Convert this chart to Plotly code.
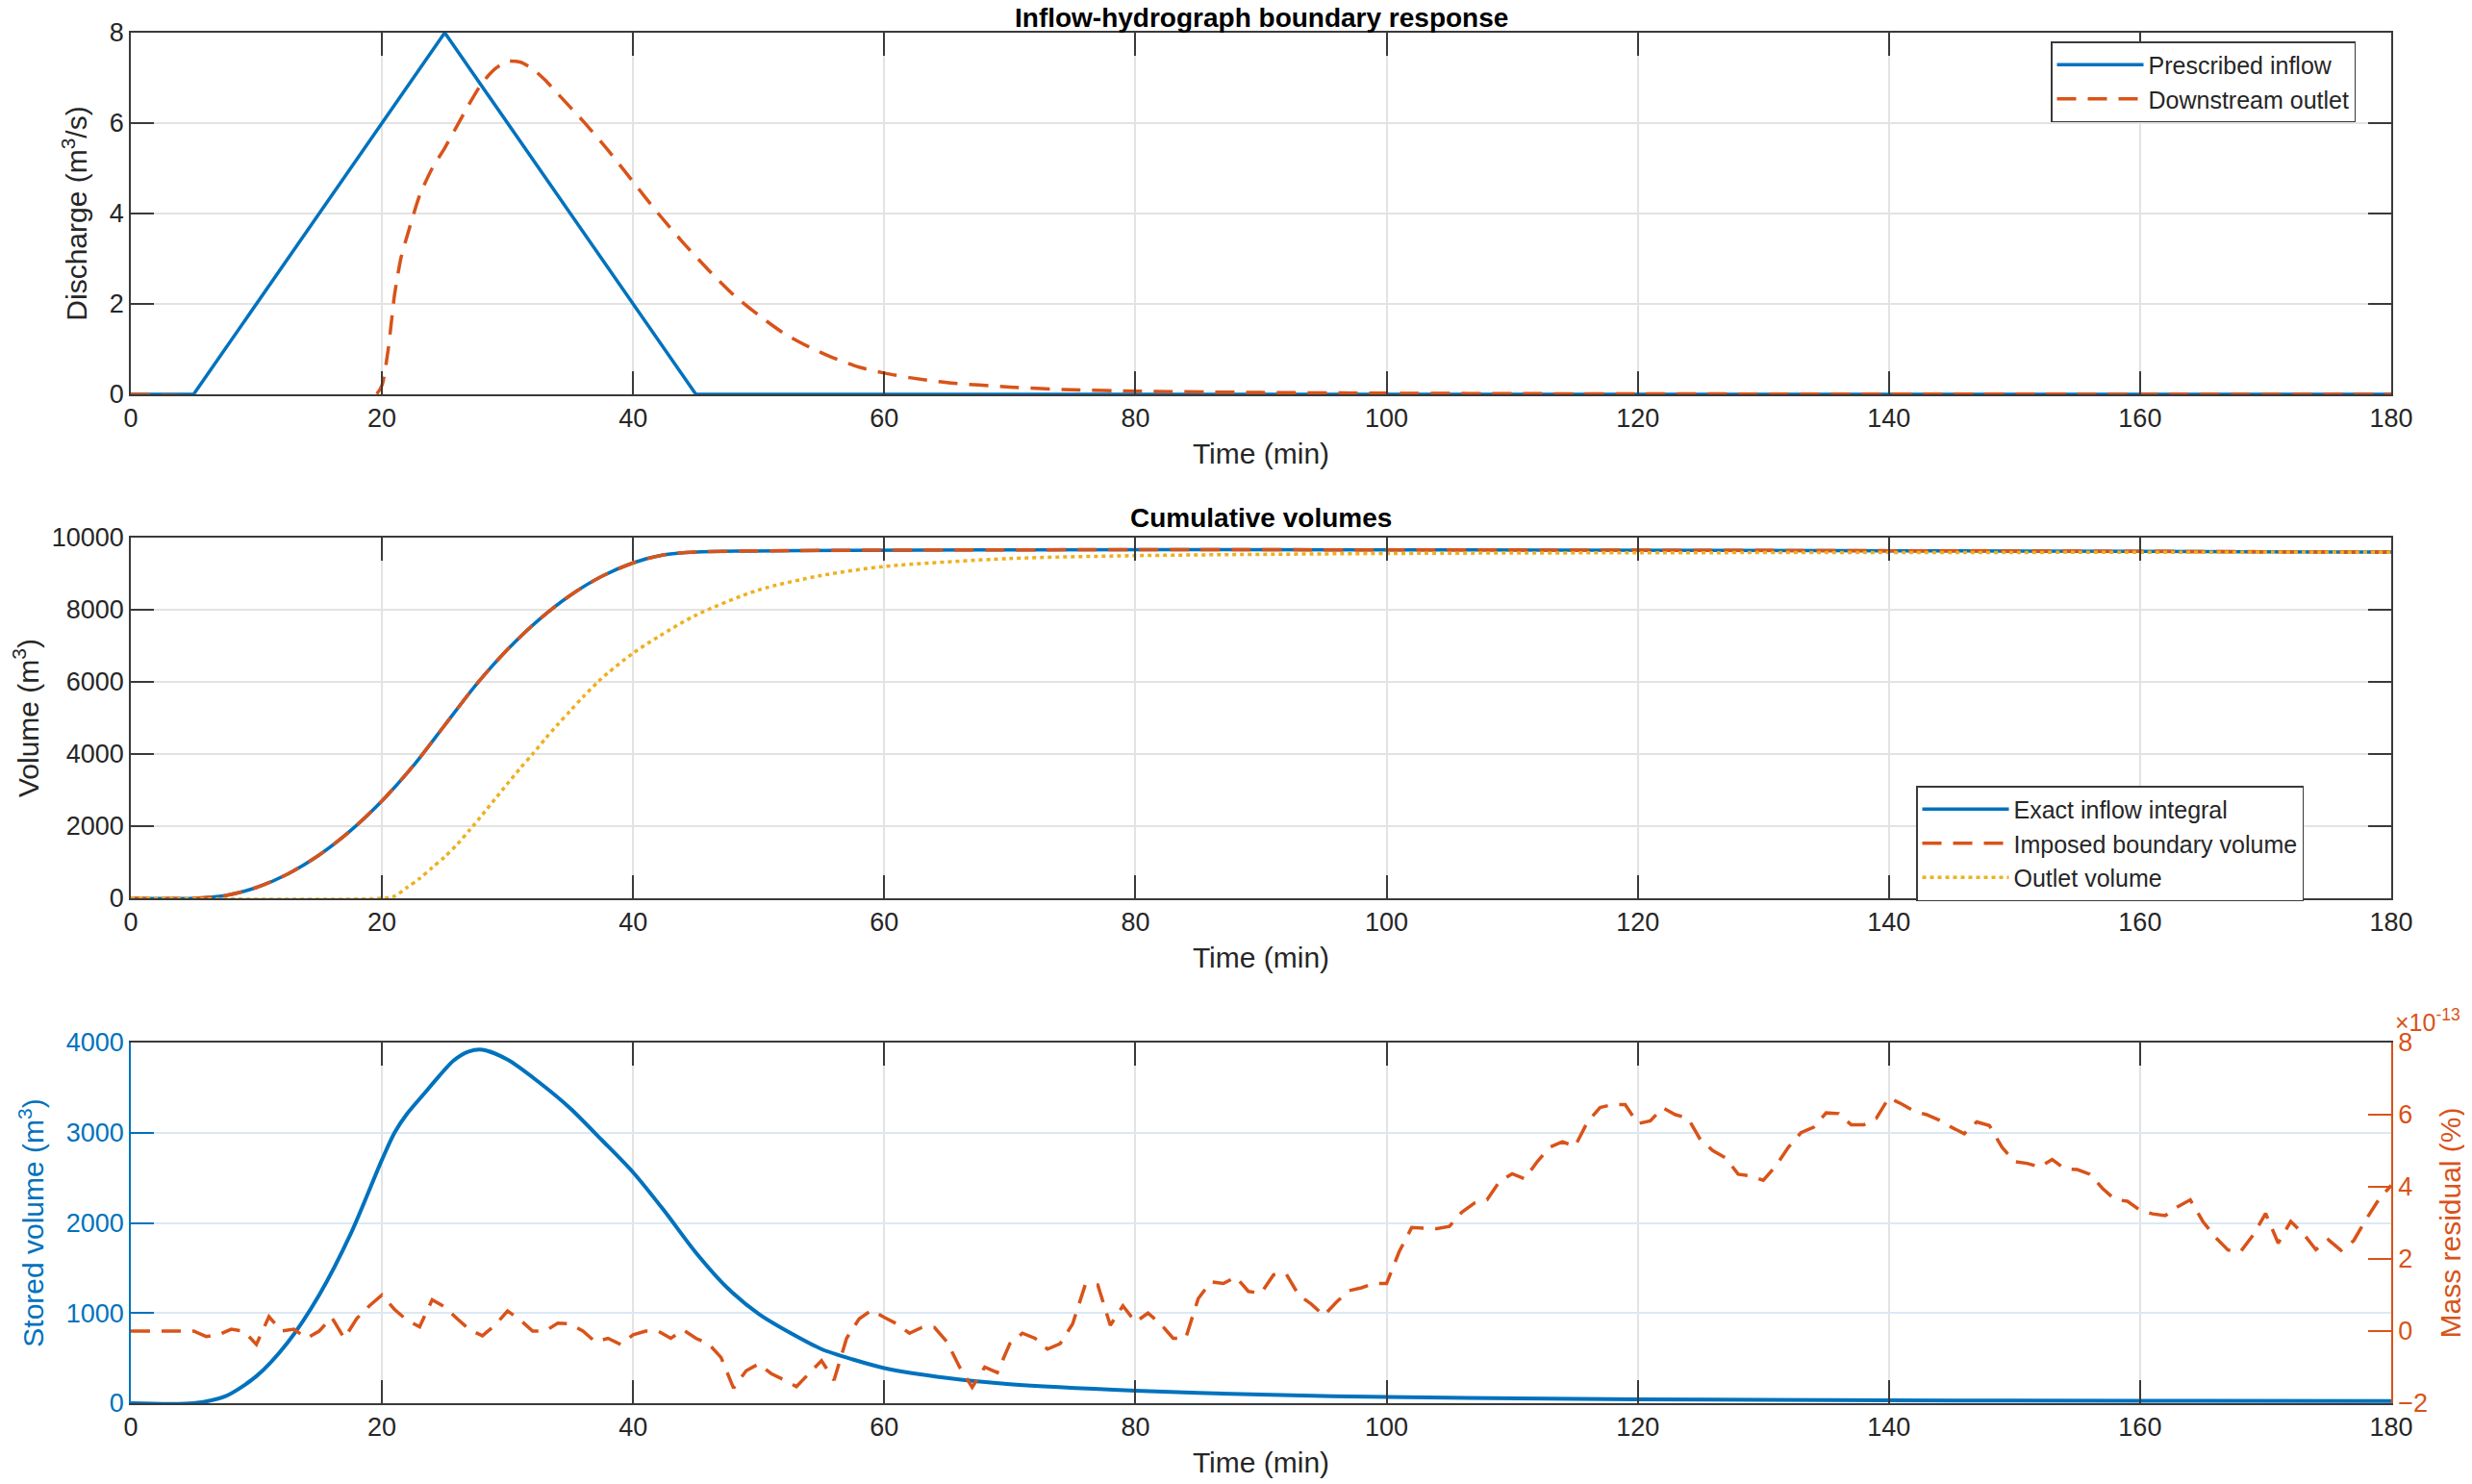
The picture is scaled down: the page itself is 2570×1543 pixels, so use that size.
import plotly.graph_objects as go

# ---- data ----
# panel 1: discharge (m3/s)
inflow_t = [0, 5, 25, 45, 180]
inflow_q = [0, 0, 8, 0, 0]

outlet_t = [0, 19.5, 20, 20.5, 21, 21.5, 22, 23, 24, 25, 26, 27, 28, 29, 30, 31, 32, 33, 34,
            36, 38, 40, 42, 44, 46, 48, 50, 52, 54, 56, 58, 60, 62, 65, 70, 75, 80, 90, 100,
            110, 120, 140, 160, 180]
outlet_q = [0, 0, 0.2, 1.0, 2.2, 3.0, 3.5, 4.4, 5.0, 5.45, 5.95, 6.45, 6.9, 7.2, 7.37, 7.35,
            7.2, 6.95, 6.65, 6.05, 5.4, 4.7, 4.0, 3.35, 2.75, 2.2, 1.75, 1.35, 1.05, 0.8, 0.6,
            0.47, 0.37, 0.26, 0.16, 0.1, 0.07, 0.04, 0.025, 0.015, 0.01, 0.005, 0.002, 0.001]

# panel 2: cumulative volumes (m3)
vol_t = [0, 5, 7.5, 10, 12.5, 15, 17.5, 20, 22.5, 25, 27.5, 30, 32.5, 35, 37.5, 40, 42.5, 45, 180]
exact_vol = [0, 0, 75, 300, 675, 1200, 1875, 2700, 3675, 4800, 5925, 6900, 7725, 8400, 8925,
             9300, 9525, 9600, 9600]
imposed_vol = [0, 0, 75, 300, 675, 1200, 1875, 2700, 3675, 4800, 5925, 6900, 7725, 8400, 8925,
               9300, 9525, 9600, 9600]

outvol_t = [0, 20, 21, 22, 23, 24, 25, 26, 27, 28, 29, 30, 31, 32, 33, 34, 35, 36, 37.2, 38,
            40, 42, 45, 50, 55, 60, 70, 80, 100, 120, 180]
outvol = [0, 0, 60, 300, 550, 850, 1150, 1500, 1900, 2320, 2750, 3180, 3600, 4000, 4420, 4820,
          5200, 5580, 6000, 6250, 6800, 7250, 7850, 8550, 8950, 9200, 9420, 9500, 9560, 9580, 9595]

# panel 3: stored volume (m3) and mass residual (x1e-13 %)
stored_t = [0, 5, 7.5, 10, 12.5, 15, 17.5, 20, 21, 22, 23.4, 24.5, 25.7, 26.9, 28, 30, 32.5, 35,
            37.5, 40, 42.5, 45, 47.5, 50, 52.5, 55, 57.5, 60, 65, 70, 80, 90, 100, 120, 140,
            160, 180]
stored = [0, 0, 75, 300, 675, 1200, 1875, 2700, 3000, 3210, 3440, 3620, 3800, 3900, 3920, 3810,
          3560, 3270, 2920, 2560, 2130, 1670, 1280, 990, 780, 600, 485, 390, 280, 210, 139, 95,
          68, 43, 32, 27, 25]

res_time = list(range(0, 181))
residual = [
    0, 0, 0, 0, 0, 0, -0.15, -0.1, 0.05, 0.0,
    -0.37, 0.4, 0.0, 0.05, -0.2, 0.0, 0.38, -0.2, 0.35, 0.7,
    1.0, 0.6, 0.3, 0.12, 0.87, 0.67, 0.34, 0.03, -0.13, 0.16,
    0.56, 0.31, 0.0, 0.0, 0.22, 0.2, 0.0, -0.3, -0.2, -0.37,
    -0.1, 0.0, 0.0, -0.2, 0.03, -0.2, -0.35, -0.73, -1.58, -1.1,
    -0.91, -1.18, -1.35, -1.54, -1.18, -0.82, -1.36, -0.2, 0.34, 0.58,
    0.38, 0.2, -0.06, 0.1, 0.1, -0.3, -1.0, -1.56, -1.0, -1.15,
    -0.35, -0.06, -0.2, -0.5, -0.35, 0.2, 1.28, 1.28, 0.16, 0.7,
    0.25, 0.5, 0.2, -0.2, -0.2, 0.9, 1.37, 1.32, 1.5, 1.1,
    1.05, 1.56, 1.59, 1.0, 0.75, 0.43, 0.8, 1.12, 1.2, 1.32,
    1.32, 2.2, 2.87, 2.85, 2.84, 2.9, 3.3, 3.55, 3.64, 4.15,
    4.36, 4.22, 4.7, 5.1, 5.25, 5.12, 5.8, 6.2, 6.28, 6.28,
    5.75, 5.83, 6.19, 6.0, 5.9, 5.3, 5.0, 4.8, 4.35, 4.3,
    4.18, 4.58, 5.1, 5.5, 5.65, 6.05, 6.03, 5.72, 5.72, 5.9,
    6.47, 6.3, 6.1, 6.0, 5.85, 5.65, 5.47, 5.8, 5.7, 5.1,
    4.7, 4.65, 4.55, 4.76, 4.5, 4.48, 4.35, 3.96, 3.65, 3.6,
    3.35, 3.25, 3.2, 3.45, 3.64, 3.04, 2.6, 2.25, 2.2, 2.66,
    3.26, 2.44, 3.04, 2.7, 2.26, 2.53, 2.24, 2.5, 3.1, 3.64, 4.04,
]

BLUE = "#0072BD"
ORANGE = "#D95319"
YELLOW = "#EDB120"
AXC = "#3a3a3a"
TXT = "#262626"
FONT = "Liberation Sans, Arial, Helvetica, sans-serif"

W, H = 2570, 1543
OFF = 8  # the page body margin shifts the figure by this much
LW = 3.5


def px(x):
    return (x - OFF) / W


def py(y):
    return 1 - (y - OFF) / H


def ydom(top, bottom):
    return [py(bottom), py(top)]


x0, x1 = px(136), px(2486)

fig = go.Figure()

# panel 1
fig.add_trace(go.Scatter(x=inflow_t, y=inflow_q, mode="lines", name="Prescribed inflow",
                         line=dict(color=BLUE, width=LW), xaxis="x", yaxis="y", legend="legend"))
fig.add_trace(go.Scatter(x=outlet_t, y=outlet_q, mode="lines", name="Downstream outlet",
                         line=dict(color=ORANGE, width=LW, dash="20px,12px", shape="spline",
                                   smoothing=0.6),
                         xaxis="x", yaxis="y", legend="legend"))

# panel 2
fig.add_trace(go.Scatter(x=vol_t, y=exact_vol, mode="lines", name="Exact inflow integral",
                         line=dict(color=BLUE, width=LW, shape="spline", smoothing=0.8),
                         xaxis="x2", yaxis="y2", legend="legend2"))
fig.add_trace(go.Scatter(x=vol_t, y=imposed_vol, mode="lines", name="Imposed boundary volume",
                         line=dict(color=ORANGE, width=LW, dash="20px,12px", shape="spline",
                                   smoothing=0.8),
                         xaxis="x2", yaxis="y2", legend="legend2"))
fig.add_trace(go.Scatter(x=outvol_t, y=outvol, mode="lines", name="Outlet volume",
                         line=dict(color=YELLOW, width=LW, dash="4px,4px", shape="spline",
                                   smoothing=0.8),
                         xaxis="x2", yaxis="y2", legend="legend2"))

# panel 3
fig.add_trace(go.Scatter(x=stored_t, y=stored, mode="lines", showlegend=False,
                         line=dict(color=BLUE, width=4, shape="spline", smoothing=0.8),
                         xaxis="x3", yaxis="y3"))
fig.add_trace(go.Scatter(x=res_time, y=residual, mode="lines", showlegend=False,
                         line=dict(color=ORANGE, width=LW, dash="20px,12px"),
                         xaxis="x3", yaxis="y4"))

tickfont = dict(family=FONT, size=27, color=TXT)
titlefont = dict(family=FONT, size=30, color=TXT)


def xax(anchor):
    return dict(domain=[x0, x1], anchor=anchor, range=[0, 180], dtick=20, automargin=False,
                showline=True, linecolor=AXC, linewidth=1.5, mirror="ticks",
                ticks="inside", ticklen=24, tickwidth=1.5, tickcolor=AXC,
                showgrid=True, gridcolor="#e3e3e3", gridwidth=1.5, zeroline=False,
                tickfont=tickfont, title=dict(text="Time (min)", font=titlefont, standoff=12))


def yax(anchor, dom, rng, dtick, title):
    return dict(domain=dom, anchor=anchor, range=rng, dtick=dtick, automargin=False,
                tickformat="d",
                showline=True, linecolor=AXC, linewidth=1.5, mirror="ticks",
                ticks="inside", ticklen=24, tickwidth=1.5, tickcolor=AXC,
                showgrid=True, gridcolor="#e3e3e3", gridwidth=1.5, zeroline=False,
                tickfont=tickfont, title=dict(text=title, font=titlefont, standoff=14))


d1 = ydom(34, 410)
d2 = ydom(559, 934)
d3 = ydom(1084, 1459)

legend_style = dict(font=dict(family=FONT, size=25, color=TXT), bgcolor="white",
                    bordercolor=AXC, borderwidth=1.5, xanchor="right", yanchor="top",
                    itemwidth=90, tracegroupgap=0)

fig.update_layout(
    width=W, height=H,
    margin=dict(l=0, r=0, t=0, b=0),
    paper_bgcolor="white", plot_bgcolor="white",
    font=dict(family=FONT, color=TXT),
    xaxis=xax("y"),
    yaxis=yax("x", d1, [0, 8], 2, "Discharge (m<sup>3</sup>/s)"),
    xaxis2=xax("y2"),
    yaxis2=yax("x2", d2, [0, 10000], 2000, "Volume (m<sup>3</sup>)"),
    xaxis3=xax("y3"),
    yaxis3=dict(domain=d3, anchor="x3", range=[0, 4000], dtick=1000, automargin=False,
                tickformat="d",
                showline=True, linecolor=BLUE, linewidth=1.5, mirror=False,
                ticks="inside", ticklen=24, tickwidth=1.5, tickcolor=BLUE,
                showgrid=True, gridcolor="#dbe9f5", gridwidth=1.5, zeroline=False,
                tickfont=dict(family=FONT, size=27, color=BLUE),
                title=dict(text="Stored volume (m<sup>3</sup>)",
                           font=dict(family=FONT, size=30, color=BLUE), standoff=14)),
    yaxis4=dict(overlaying="y3", anchor="x3", side="right", range=[-2, 8], dtick=2,
                automargin=False,
                showline=True, linecolor=ORANGE, linewidth=1.5,
                ticks="inside", ticklen=24, tickwidth=1.5, tickcolor=ORANGE,
                showgrid=False, zeroline=False,
                tickfont=dict(family=FONT, size=27, color=ORANGE),
                title=dict(text="Mass residual (%)",
                           font=dict(family=FONT, size=30, color=ORANGE), standoff=14)),
    legend=dict(x=px(2449), y=py(43), **legend_style),
    legend2=dict(x=px(2395), y=py(817), **legend_style),
    annotations=[
        dict(text="<b>Inflow-hydrograph boundary response</b>", x=(x0 + x1) / 2, y=1 - 28.5 / H,
             xref="paper", yref="paper", xanchor="center", yanchor="bottom", showarrow=False,
             font=dict(family=FONT, size=28, color="black")),
        dict(text="<b>Cumulative volumes</b>", x=(x0 + x1) / 2, y=py(556),
             xref="paper", yref="paper", xanchor="center", yanchor="bottom", showarrow=False,
             font=dict(family=FONT, size=28, color="black")),
        dict(text="×10<sup>-13</sup>", x=px(2488), y=py(1079),
             xref="paper", yref="paper", xanchor="left", yanchor="bottom", showarrow=False,
             font=dict(family=FONT, size=25, color=ORANGE)),
    ],
)

fig.write_html("out.html")
